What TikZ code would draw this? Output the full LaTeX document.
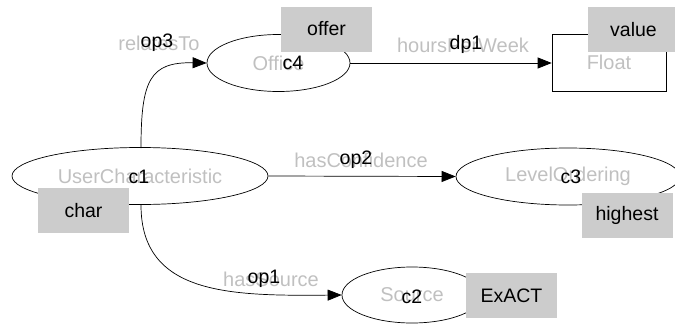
\documentclass[tikz,border=0pt]{standalone}
\usepackage{fontspec}
\setmainfont{Liberation Sans}
\usetikzlibrary{shapes.geometric,arrows.meta}
\definecolor{labelgray}{RGB}{192,192,192}
\definecolor{tagfill}{RGB}{204,204,204}
\tikzset{
  x=1pt, y=-1pt,
  concept/.style={ellipse, draw=black, line width=0.7pt, inner sep=0pt,
    text=labelgray, font=\fontsize{20}{22}\selectfont},
  datatype/.style={rectangle, draw=black, line width=0.7pt, inner sep=0pt,
    text=labelgray, font=\fontsize{20}{22}\selectfont},
  relname/.style={text=labelgray, inner sep=0pt, font=\fontsize{20}{22}\selectfont},
  varname/.style={text=black, inner sep=0pt, font=\fontsize{19.5}{21}\selectfont},
  tag/.style={fill=tagfill, inner sep=0pt, minimum width=91pt, minimum height=45pt,
    text=black, font=\fontsize{19.5}{21}\selectfont},
  rel/.style={line width=0.7pt, -{Triangle[length=14pt,width=11pt]}},
}
\begin{document}
\begin{tikzpicture}
\useasboundingbox (0,0) rectangle (675,324);

% classes and the datatype
\node[concept, minimum width=256pt, minimum height=57pt] (user) at (140,176) {UserCharacteristic};
\node[concept, minimum width=143pt, minimum height=57pt] (office) at (278.5,63) {Office};
\node[concept, minimum width=224pt, minimum height=57pt] (level) at (568,176.5) {LevelOrdering};
\node[concept, minimum width=140pt, minimum height=56pt] (source) at (412,295) {Source};
\node[datatype, minimum width=114pt, minimum height=57pt] (float) at (609,62.5) {Float};

% end points on the class outlines
\coordinate (utop) at (141,148);
\coordinate (ubot) at (141,205);

% relations
\draw[rel] (utop) .. controls (141,80) and (150,62) .. (office.west);
\draw[rel] (ubot) .. controls (141,295) and (230,296) .. (source.west);
\draw[rel] (user.east) -- (level.west);
\draw[rel] (office.east) -- (float.west |- office.east);

% relation names
\node[relname] (nrel) at (159,43) {relatesTo};
\node[relname] (nhpw) at (463,45) {hoursPerWeek};
\node[relname] (nconf) at (361,160) {hasConfidence};
\node[relname] (nsrc) at (271,279) {hasSource};

% grey tags
\node[tag] (toffer) at (326.5,29) {offer};
\node[tag] (tvalue) at (633.5,29.5) {value};
\node[tag] (thigh) at (627,215.5) {highest};
\node[tag] (texact) at (511.5,295.5) {ExACT};
\node[tag] (tchar) at (83.5,210.5) {char};

% variable names
\node[varname] (vop3) at (157,43) {op3};
\node[varname] (vdp1) at (466,44) {dp1};
\node[varname] (vop2) at (356,160) {op2};
\node[varname] (vop1) at (264,279) {op1};
\node[varname] (vc1) at (139,177) {c1};
\node[varname] (vc4) at (293,63) {c4};
\node[varname] (vc3) at (571,177) {c3};
\node[varname] (vc2) at (412,297) {c2};
\end{tikzpicture}
\end{document}
